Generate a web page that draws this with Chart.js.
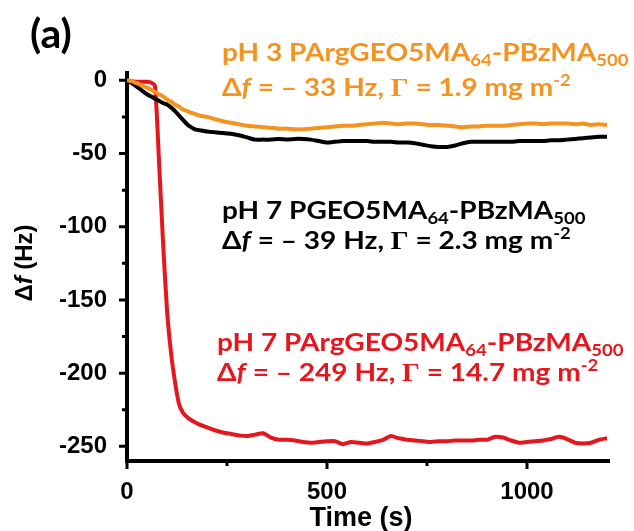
<!DOCTYPE html>
<html>
<head>
<meta charset="utf-8">
<script src="https://cdn.jsdelivr.net/npm/chart.js@4.4.1/dist/chart.umd.min.js"></script>
<style>
  html, body { margin: 0; background: #fff; }
  #wrap { width: 634px; height: 531px; }
</style>
</head>
<body>
<div id="wrap"><canvas id="c" width="634" height="531"></canvas></div>
<script>
// time axis (s): 10 s steps through the drop, then 20 s steps
const time = [0,10,20,30,40,50,60,70,80,90,100,110,120,130,140,150,160,170,180,190,200,
  220,240,260,280,300,320,340,360,380,400,420,440,460,480,500,520,540,560,580,600,
  620,640,660,680,700,720,740,760,780,800,820,840,860,880,900,920,940,960,980,1000,
  1020,1040,1060,1080,1100,1120,1140,1160,1180,1200];

// pH 3 PArgGEO5MA64-PBzMA500 (orange)
const dfOrange = [0,-0.5,-1.5,-2.5,-4,-5,-6.5,-8,-9.5,-11,-13,-14.5,-16.5,-18,-20,-21,-22,-23,-24,-24.5,-25,
  -26.5,-28,-29,-30,-31,-31.5,-32,-32.5,-33,-33,-33.5,-33.5,-33,-32.5,-32,-31.5,-31,-31,-30.5,-30,
  -29.5,-29,-29.5,-30,-29.5,-29.5,-30,-30.5,-30.5,-31,-31.5,-32,-31.5,-31.5,-31,-31,-31,-30.5,-30,-29.5,
  -29.5,-30,-29.5,-29.5,-29.5,-30,-29.5,-30.5,-30,-30.5];

// pH 7 PGEO5MA64-PBzMA500 (black)
const dfBlack = [0,-1.5,-3.5,-5.5,-7.5,-9.5,-11,-12.5,-14,-15.5,-16.5,-18.5,-21,-24,-27,-30,-32,-33.5,-34,-34.5,-35,
  -35.5,-36,-36.5,-37.5,-39,-40.5,-40.5,-40.5,-40,-40.5,-40,-40,-40.5,-41.5,-42.5,-42,-41.5,-41.5,-41.5,-41.5,
  -42,-42,-42,-42.5,-42.5,-43,-44,-45,-45.5,-45.5,-44.5,-43,-42,-42,-42,-42,-42,-42,-41.5,-41.5,
  -41.5,-41.5,-41,-41,-40.5,-40,-39.5,-39,-38.5,-38.5];

// pH 7 PArgGEO5MA64-PBzMA500 (red)
const dfRed = [0,-0.5,-1,-1,-1,-1,-1.5,-4,-55,-110,-157,-186,-206,-221,-227,-230,-232,-233.5,-235,-236,-237,
  -239,-240.5,-241.5,-242.5,-243,-242,-241,-244,-245.5,-245.5,-246,-247,-247.5,-247,-246.5,-246.5,-248.5,-247,-247.5,-248,
  -247,-245.5,-243,-244.5,-245.5,-246,-246.5,-247,-246.5,-246.5,-246,-246,-246,-245.5,-245.5,-243.5,-244,-246,-247.5,-247,
  -246.5,-246,-245,-243.5,-245,-247.5,-248,-247.5,-245.5,-244.5];

const xMajor = [0, 500, 1000];
const xMinor = [250, 750];
const yMajor = [0, -50, -100, -150, -200, -250];
const yMinor = [-25, -75, -125, -175, -225];

const ORANGE = '#F39322';
const RED = '#E4161E';
const BLACK = '#000000';

const pts = arr => time.map((t, i) => ({ x: t, y: arr[i] }));

const notes = [
  { color: ORANGE, x: 222, y: [61, 96], lines: [
    [{ t: 'pH 3 PArgGEO5MA' }, { t: '64', sub: true }, { t: '-PBzMA' }, { t: '500', sub: true }],
    [{ t: 'Δ' }, { t: 'f', it: true }, { t: ' = – 33 Hz, ' }, { t: 'Γ', serif: true }, { t: ' = 1.9 mg m' }, { t: '-2', sup: true }]
  ]},
  { color: BLACK, x: 222, y: [219, 249], lines: [
    [{ t: 'pH 7 PGEO5MA' }, { t: '64', sub: true }, { t: '-PBzMA' }, { t: '500', sub: true }],
    [{ t: 'Δ' }, { t: 'f', it: true }, { t: ' = – 39 Hz, ' }, { t: 'Γ', serif: true }, { t: ' = 2.3 mg m' }, { t: '-2', sup: true }]
  ]},
  { color: RED, x: 217, y: [351, 381], lines: [
    [{ t: 'pH 7 PArgGEO5MA' }, { t: '64', sub: true }, { t: '-PBzMA' }, { t: '500', sub: true }],
    [{ t: 'Δ' }, { t: 'f', it: true }, { t: ' = – 249 Hz, ' }, { t: 'Γ', serif: true }, { t: ' = 14.7 mg m' }, { t: '-2', sup: true }]
  ]}
];

function drawRuns(ctx, x, y, runs, size, family) {
  let cx = x;
  runs.forEach(r => {
    const s = (r.sub || r.sup) ? size * 0.66 : size;
    const fam = r.serif ? '"Liberation Serif", serif' : family;
    ctx.font = (r.it ? 'italic ' : '') + 'bold ' + s + 'px ' + fam;
    const dy = r.sub ? size * 0.2 : r.sup ? -size * 0.4 : 0;
    ctx.fillText(r.t, cx, y + dy);
    cx += ctx.measureText(r.t).width;
  });
  return cx - x;
}

function runsWidth(ctx, runs, size, family) {
  let w = 0;
  runs.forEach(r => {
    const s = (r.sub || r.sup) ? size * 0.66 : size;
    ctx.font = (r.it ? 'italic ' : '') + 'bold ' + s + 'px ' + family;
    w += ctx.measureText(r.t).width;
  });
  return w;
}

const extras = {
  id: 'extras',
  afterDraw(chart) {
    const ctx = chart.ctx;
    const xs = chart.scales.x, ys = chart.scales.y;
    const left = chart.chartArea.left, bottom = chart.chartArea.bottom;
    ctx.save();
    // tick marks
    ctx.strokeStyle = '#000';
    ctx.lineWidth = 3;
    ctx.beginPath();
    yMajor.forEach(v => { const p = ys.getPixelForValue(v); ctx.moveTo(left, p); ctx.lineTo(left - 8, p); });
    yMinor.forEach(v => { const p = ys.getPixelForValue(v); ctx.moveTo(left, p); ctx.lineTo(left - 5, p); });
    xMajor.forEach(v => { const p = xs.getPixelForValue(v); ctx.moveTo(p, bottom); ctx.lineTo(p, bottom + 8); });
    xMinor.forEach(v => { const p = xs.getPixelForValue(v); ctx.moveTo(p, bottom); ctx.lineTo(p, bottom + 5); });
    ctx.stroke();

    ctx.fillStyle = '#000';
    ctx.textBaseline = 'alphabetic';
    // x title
    ctx.font = 'bold 27px "Liberation Sans", Arial, sans-serif';
    ctx.textAlign = 'center';
    ctx.fillText('Time (s)', 361, 526);
    // y title
    ctx.textAlign = 'left';
    const yt = [{ t: 'Δ' }, { t: 'f', it: true }, { t: ' (Hz)' }];
    const fam = '"Liberation Sans", Arial, sans-serif';
    const w = runsWidth(ctx, yt, 24, fam);
    ctx.translate(32, 263);
    ctx.rotate(-Math.PI / 2);
    drawRuns(ctx, -w / 2, 0, yt, 24, fam);
    ctx.setTransform(1, 0, 0, 1, 0, 0);

    // panel label
    ctx.font = 'bold 41px Lato, "Open Sans", sans-serif';
    ctx.fillText('(a)', 30, 48);

    // annotations, Lato stretched to the width of the original lettering
    notes.forEach(n => {
      ctx.fillStyle = n.color;
      n.lines.forEach((runs, i) => {
        ctx.save();
        ctx.translate(n.x, n.y[i]);
        ctx.scale(1.1, 1);
        drawRuns(ctx, 0, 0, runs, 25.5, 'Lato, "Open Sans", sans-serif');
        ctx.restore();
      });
    });
    ctx.restore();
  }
};

new Chart(document.getElementById('c'), {
  type: 'line',
  data: {
    datasets: [
      { data: pts(dfOrange), borderColor: ORANGE, borderWidth: 4, pointRadius: 0, tension: 0.2, clip: false },
      { data: pts(dfBlack), borderColor: BLACK, borderWidth: 4, pointRadius: 0, tension: 0.2, clip: false },
      { data: pts(dfRed), borderColor: RED, borderWidth: 4, pointRadius: 0, tension: 0.2, clip: false }
    ]
  },
  options: {
    responsive: false,
    animation: false,
    devicePixelRatio: 1,
    layout: { padding: { left: 0, top: 73, right: 25, bottom: 0 } },
    plugins: { legend: { display: false }, tooltip: { enabled: false } },
    scales: {
      x: {
        type: 'linear', min: 0, max: 1205,
        afterBuildTicks: s => { s.ticks = xMajor.map(v => ({ value: v })); },
        afterFit: s => { s.height = 70; },
        grid: { display: false },
        border: { display: true, color: '#000', width: 4 },
        ticks: { color: '#000', padding: 9, maxRotation: 0, callback: v => String(v),
          font: { family: '"Liberation Sans", Arial, sans-serif', size: 24, weight: 'bold' } }
      },
      y: {
        type: 'linear', min: -260, max: 5,
        afterBuildTicks: s => { s.ticks = yMajor.map(v => ({ value: v })); },
        afterFit: s => { s.width = 127; },
        grid: { display: false },
        border: { display: true, color: '#000', width: 4 },
        ticks: { color: '#000', padding: 12, callback: v => String(v),
          font: { family: '"Liberation Sans", Arial, sans-serif', size: 24, weight: 'bold' } }
      }
    }
  },
  plugins: [extras]
});
</script>
</body>
</html>
